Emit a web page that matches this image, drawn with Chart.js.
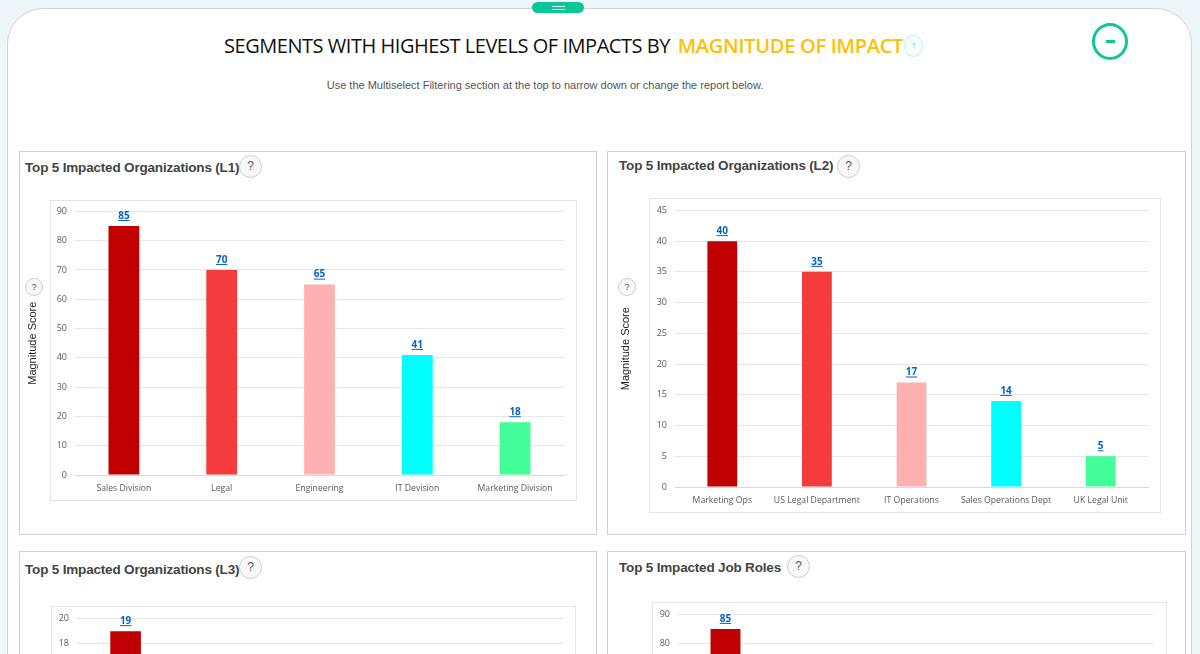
<!DOCTYPE html>
<html>
<head>
<meta charset="utf-8">
<title>Segments</title>
<script src="https://cdn.jsdelivr.net/npm/chart.js@4"></script>
<style>
  html, body { margin: 0; padding: 0; width: 1200px; height: 654px; overflow: hidden; background: #edf6f9; }
  .abs { position: absolute; box-sizing: border-box; }
  #sheet { left: 7px; top: 8px; width: 1185px; height: 700px; background: #fff; border: 1px solid #ccd5d8; border-radius: 36px 36px 0 0; }
  #pull { left: 532px; top: 2px; width: 52px; height: 11px; background: #0bc795; border-radius: 6px; }
  #pull i { position: absolute; left: 20px; width: 13px; height: 1px; background: #fff; }
  #heading { left: 224px; top: 32px; font: 20px "Open Sans", sans-serif; color: #111; white-space: nowrap; letter-spacing: -0.46px; }
  #heading b { font-weight: 600; color: #ffc000; margin-left: 3px; letter-spacing: -0.28px; }
  #sub { left: 0; top: 79px; width: 1090px; text-align: center; font: 11px "Liberation Sans", sans-serif; color: #555; }
  #toggle { left: 1092px; top: 23px; width: 36px; height: 37px; border: 3px solid #0bc795; border-radius: 50%; }
  #toggle i { position: absolute; left: 10.5px; top: 13.5px; width: 9px; height: 3px; background: #0bc795; }
  .card { background: #fff; border: 1px solid #cfd2d3; }
  .card-title { font: bold 13.5px "Liberation Sans", sans-serif; letter-spacing: -0.18px; color: #444; white-space: nowrap; }
  .inner { background: #fff; border: 1px solid #e2e4e5; }
  .help { width: 23px; height: 23px; border: 1px solid #cdcdcd; border-radius: 50%; background: #f8f8f8; color: #555; font: 12px/21px "Liberation Sans", sans-serif; text-align: center; }
  .help.small { width: 18px; height: 18px; font-size: 9px; line-height: 16px; }
  .help.cyan { width: 19px; height: 22px; border-color: #c5f5ee; background: #f6fdfc; color: #1ee8d0; font-size: 8px; line-height: 20px; }
  canvas { position: absolute; }
</style>
</head>
<body>
<div class="abs" id="sheet"></div>
<div class="abs" id="pull"><i style="top:4px"></i><i style="top:7px"></i></div>
<div class="abs" id="heading">SEGMENTS WITH HIGHEST LEVELS OF IMPACTS BY <b>MAGNITUDE OF IMPACT</b></div>
<div class="abs help cyan" style="left:904px;top:35px">?</div>
<div class="abs" id="sub">Use the Multiselect Filtering section at the top to narrow down or change the report below.</div>
<div class="abs" id="toggle"><i></i></div>
<div id="panels"></div>

<script>
document.addEventListener('DOMContentLoaded', function () {

    const colors = ['#c00000', '#f53b3b', '#ffb0b0', '#00ffff', '#44ff99'];

    // card, inner frame and gridline area are all in page pixels
    const panels = [
        {
            title: 'Top 5 Impacted Organizations (L1)',
            card: [19, 151, 578, 384], titleAt: [25, 160], help: [239, 155],
            inner: [50, 200, 527, 301], plot: [75, 564, 211, 475],
            axisHelp: [25, 278], titlePad: 6,
            labels: ['Sales Division', 'Legal', 'Engineering', 'IT Devision', 'Marketing Division'],
            values: [85, 70, 65, 41, 18],
            max: 90, step: 10
        },
        {
            title: 'Top 5 Impacted Organizations (L2)',
            card: [607, 151, 579, 384], titleAt: [619, 158], help: [837, 155],
            inner: [649, 198, 512, 315], plot: [675, 1148, 210, 487],
            axisHelp: [618, 278], titlePad: 11,
            labels: ['Marketing Ops', 'US Legal Department', 'IT Operations', 'Sales Operations Dept', 'UK Legal Unit'],
            values: [40, 35, 17, 14, 5],
            max: 45, step: 5
        },
        {
            title: 'Top 5 Impacted Organizations (L3)',
            card: [19, 551, 578, 200], titleAt: [25, 562], help: [239, 556],
            inner: [51, 606, 525, 300], plot: [77, 563, 618, 873],
            // only the first bar rises into view, the page is cut off below it
            labels: ['', '', '', '', ''],
            values: [19],
            max: 20, step: 2
        },
        {
            title: 'Top 5 Impacted Job Roles',
            card: [607, 551, 579, 200], titleAt: [619, 560], help: [787, 555],
            inner: [652, 602, 515, 300], plot: [678, 1153, 614, 875],
            labels: ['', '', '', '', ''],
            values: [85],
            max: 90, step: 10
        }
    ];

    const valueLabels = {
        id: 'valueLabels',
        afterDatasetsDraw(chart) {
            const ctx = chart.ctx;
            ctx.save();
            ctx.font = 'bold 10px "Open Sans", sans-serif';
            ctx.fillStyle = '#0563c1';
            ctx.strokeStyle = '#0563c1';
            ctx.textAlign = 'center';
            ctx.textBaseline = 'bottom';
            chart.getDatasetMeta(0).data.forEach(function (bar, i) {
                const text = String(chart.data.datasets[0].data[i]);
                const w = ctx.measureText(text).width;
                ctx.fillText(text, bar.x, bar.y - 5);
                ctx.beginPath();
                ctx.moveTo(bar.x - w / 2, bar.y - 5.5);
                ctx.lineTo(bar.x + w / 2, bar.y - 5.5);
                ctx.lineWidth = 1;
                ctx.stroke();
            });
            ctx.restore();
        }
    };

    const holder = document.getElementById('panels');

    function addBox(cls, rect) {
        const el = document.createElement('div');
        el.className = 'abs ' + cls;
        el.style.left = rect[0] + 'px';
        el.style.top = rect[1] + 'px';
        if (rect.length > 2) {
            el.style.width = rect[2] + 'px';
            el.style.height = rect[3] + 'px';
        }
        holder.appendChild(el);
        return el;
    }

    panels.forEach(function (p) {
        addBox('card', p.card);
        addBox('card-title', p.titleAt).textContent = p.title;
        addBox('help', p.help).textContent = '?';
        addBox('inner', p.inner);
        if (p.axisHelp) addBox('help small', p.axisHelp).textContent = '?';

        // the canvas starts left of the frame so the axis title sits outside it
        const left = p.card[0] + 1;
        // the scale keeps 13px above its top gridline whatever the padding
        const top = p.plot[2] - 13;
        const right = p.inner[0] + p.inner[2];
        const bottom = p.inner[1] + p.inner[3];

        const canvas = document.createElement('canvas');
        canvas.style.left = left + 'px';
        canvas.style.top = top + 'px';
        canvas.style.width = (right - left) + 'px';
        canvas.style.height = (bottom - top) + 'px';
        canvas.width = right - left;
        canvas.height = bottom - top;
        holder.appendChild(canvas);

        new Chart(canvas.getContext('2d'), {
            type: 'bar',
            data: {
                labels: p.labels,
                datasets: [{
                    label: 'Magnitude Score',
                    data: p.values,
                    backgroundColor: colors,
                    categoryPercentage: 1,
                    barPercentage: 0.315
                }]
            },
            plugins: [valueLabels],
            options: {
                responsive: false,
                animation: false,
                devicePixelRatio: 1,
                layout: {
                    padding: { left: 0, top: 0, right: right - p.plot[1], bottom: 0 }
                },
                plugins: {
                    legend: { display: false },
                    tooltip: { enabled: false }
                },
                scales: {
                    x: {
                        grid: { display: false },
                        border: { color: '#d9d9d9' },
                        ticks: {
                            color: '#595959',
                            maxRotation: 0,
                            autoSkip: false,
                            padding: 0,
                            font: { family: '"Open Sans", sans-serif', size: 8.7 }
                        },
                        afterFit: function (axis) { axis.height = bottom - p.plot[3]; }
                    },
                    y: {
                        min: 0,
                        max: p.max,
                        grid: { color: '#e6e6e6', drawTicks: false },
                        border: { display: false },
                        title: {
                            display: !!p.axisHelp,
                            text: 'Magnitude Score',
                            color: '#222',
                            padding: { top: p.titlePad || 0, bottom: 0 },
                            font: { family: '"Liberation Sans", sans-serif', size: 11 }
                        },
                        ticks: {
                            stepSize: p.step,
                            color: '#595959',
                            padding: 8,
                            font: { family: '"Open Sans", sans-serif', size: 9 }
                        },
                        afterFit: function (axis) { axis.width = p.plot[0] - left; }
                    }
                }
            }
        });
    });

});
</script>
</body>
</html>
